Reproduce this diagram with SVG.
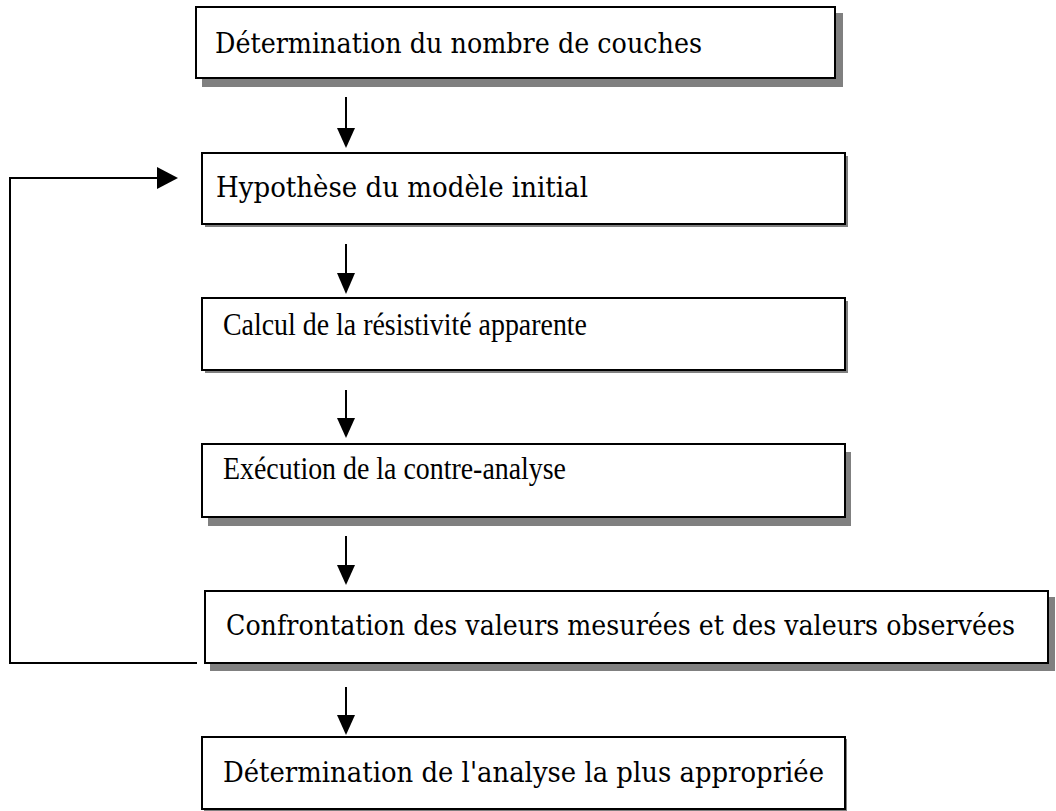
<svg xmlns="http://www.w3.org/2000/svg" width="1056" height="811" viewBox="0 0 1056 811">
<style>
.box{fill:#fff;stroke:#000;stroke-width:2}
.sh{fill:#808080}
.t1{font-family:"DejaVu Serif","Liberation Serif",serif;font-size:27px;fill:#000}
.t2{font-family:"Liberation Serif",serif;font-size:31px;fill:#000}
.ln{stroke:#000;stroke-width:2;fill:none}
</style>
<g id="connectors">
<path class="ln" d="M346,97 V128"/><path d="M337,128 H355 L346,148 Z"/>
<path class="ln" d="M346,244 V273"/><path d="M337,273 H355 L346,294 Z"/>
<path class="ln" d="M346,390 V418"/><path d="M337,418 H355 L346,438 Z"/>
<path class="ln" d="M346,536 V565"/><path d="M337,565 H355 L346,585 Z"/>
<path class="ln" d="M346,687 V715"/><path d="M337,715 H355 L346,735 Z"/>
<path class="ln" d="M197,663 H10 V178 H158"/><path d="M157,167 L178,178 L157,189 Z"/>
</g>
<g id="n1">
<rect class="sh" x="202" y="13" width="641" height="74"/>
<rect class="box" x="196" y="7" width="639" height="71"/>
<text class="t1" x="215" y="53" textLength="487" lengthAdjust="spacingAndGlyphs">Détermination du nombre de couches</text>
</g>
<g id="n2">
<rect class="sh" x="205" y="156" width="643" height="71"/>
<rect class="box" x="202" y="153" width="643" height="71"/>
<text class="t1" x="216" y="197" textLength="372" lengthAdjust="spacingAndGlyphs">Hypothèse du modèle initial</text>
</g>
<g id="n3">
<rect class="sh" x="205" y="301" width="643" height="72"/>
<rect class="box" x="202" y="298" width="643" height="72"/>
<text class="t2" x="223" y="335" textLength="364" lengthAdjust="spacingAndGlyphs">Calcul de la résistivité apparente</text>
</g>
<g id="n4">
<rect class="sh" x="208" y="452" width="643" height="74"/>
<rect class="box" x="202" y="444" width="643" height="73"/>
<text class="t2" x="223" y="479" textLength="343" lengthAdjust="spacingAndGlyphs">Exécution de la contre-analyse</text>
</g>
<g id="n5">
<rect class="sh" x="210" y="597" width="845" height="74"/>
<rect class="box" x="205" y="591" width="843" height="72"/>
<text class="t1" x="226" y="635" textLength="789" lengthAdjust="spacingAndGlyphs">Confrontation des valeurs mesurées et des valeurs observées</text>
</g>
<g id="n6">
<rect class="sh" x="204" y="739" width="643" height="72"/>
<rect class="box" x="202" y="737" width="643" height="72"/>
<text class="t1" x="223" y="782" textLength="601" lengthAdjust="spacingAndGlyphs">Détermination de l'analyse la plus appropriée</text>
</g>
</svg>
